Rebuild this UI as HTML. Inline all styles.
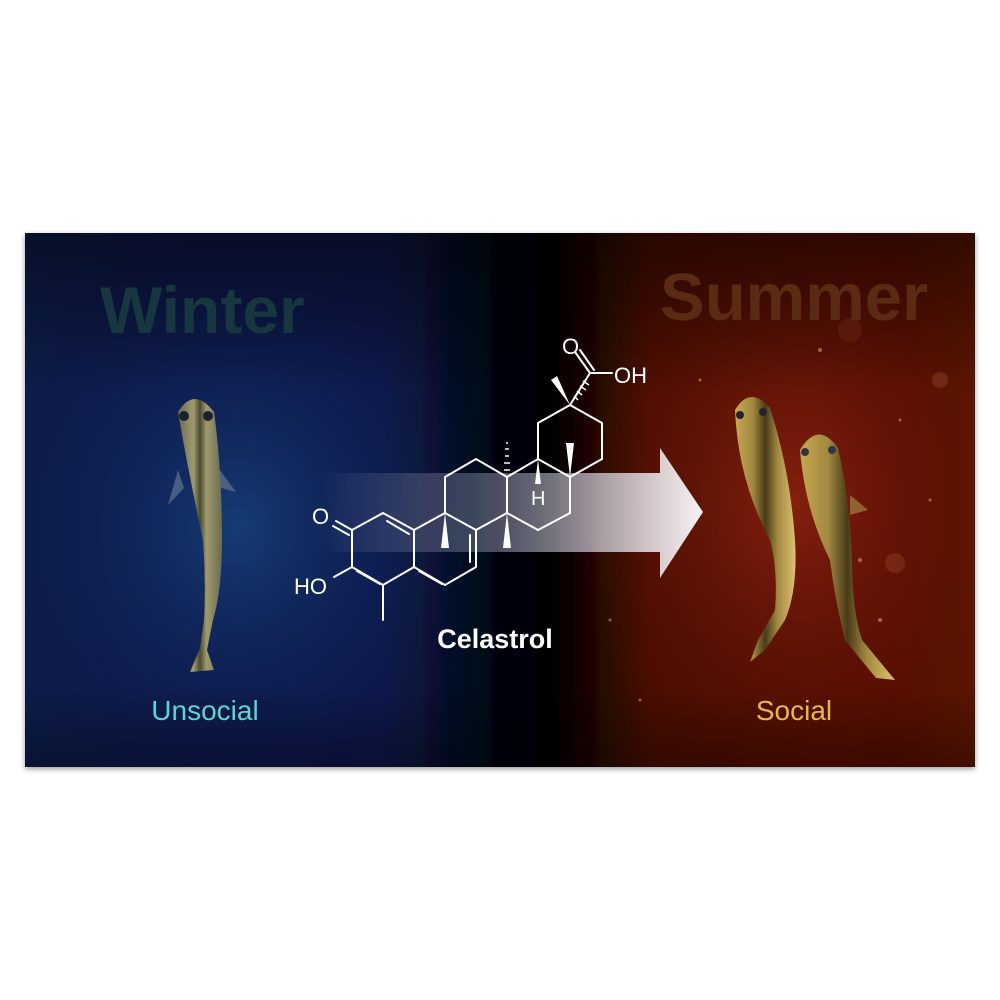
<!DOCTYPE html>
<html><head><meta charset="utf-8"><style>
html,body{margin:0;padding:0;background:#fff;width:1000px;height:1000px;overflow:hidden}
svg{display:block}
text{font-family:"Liberation Sans",Arial,sans-serif}
</style></head><body>
<svg width="1000" height="1000" viewBox="0 0 1000 1000">
<defs>
<linearGradient id="base" x1="0" x2="1" y1="0" y2="0">
<stop offset="0" stop-color="#0a1a48"/><stop offset="0.38" stop-color="#0a1848"/><stop offset="0.5" stop-color="#03050f"/><stop offset="0.56" stop-color="#050101"/><stop offset="0.66" stop-color="#4a0e06"/><stop offset="1" stop-color="#5a1206"/></linearGradient>
<radialGradient id="blue" cx="0.45" cy="0.55" r="0.55">
<stop offset="0" stop-color="#17407a" stop-opacity="0.9"/><stop offset="1" stop-color="#0a1a48" stop-opacity="0"/></radialGradient>
<radialGradient id="red" cx="0.55" cy="0.5" r="0.55">
<stop offset="0" stop-color="#8a2210" stop-opacity="0.9"/><stop offset="1" stop-color="#5a1206" stop-opacity="0"/></radialGradient>
<linearGradient id="topdark" x1="0" x2="0" y1="0" y2="1">
<stop offset="0" stop-color="#000" stop-opacity="0.45"/><stop offset="0.3" stop-color="#000" stop-opacity="0"/><stop offset="0.85" stop-color="#000" stop-opacity="0"/><stop offset="1" stop-color="#000" stop-opacity="0.3"/></linearGradient>
<linearGradient id="arrowg" x1="0" x2="1" y1="0" y2="0">
<stop offset="0" stop-color="#fff" stop-opacity="0"/><stop offset="0.4" stop-color="#c8cce8" stop-opacity="0.3"/><stop offset="1" stop-color="#fff" stop-opacity="0.95"/></linearGradient>
<linearGradient id="fishg" x1="0" x2="1"><stop offset="0" stop-color="#6a6a50"/><stop offset="0.35" stop-color="#a09a70"/><stop offset="0.5" stop-color="#4a4a30"/><stop offset="0.65" stop-color="#a09a70"/><stop offset="1" stop-color="#6a6a50"/></linearGradient>
<linearGradient id="fishg2" x1="0" x2="1"><stop offset="0" stop-color="#c8a850"/><stop offset="0.3" stop-color="#a08840"/><stop offset="0.5" stop-color="#4a3a18"/><stop offset="0.7" stop-color="#a08840"/><stop offset="1" stop-color="#e0c070"/></linearGradient>
<filter id="sh" x="-5%" y="-5%" width="110%" height="110%"><feDropShadow dx="0" dy="2" stdDeviation="3" flood-opacity="0.4"/></filter>
</defs>
<g>
<rect x="25" y="233" width="950" height="534" fill="url(#base)" filter="url(#sh)"/>
<rect x="25" y="233" width="470" height="534" fill="url(#blue)"/>
<rect x="570" y="233" width="405" height="534" fill="url(#red)"/>
<rect x="25" y="233" width="950" height="534" fill="url(#topdark)"/>
</g>
<g fill="#ffb070" opacity="0.5">
<circle cx="820" cy="350" r="2"/><circle cx="900" cy="420" r="1.5"/><circle cx="860" cy="560" r="2"/><circle cx="930" cy="500" r="1.5"/><circle cx="700" cy="380" r="1.5"/><circle cx="880" cy="620" r="2"/><circle cx="940" cy="380" r="8" opacity="0.3"/><circle cx="895" cy="563" r="10" opacity="0.25"/><circle cx="610" cy="620" r="1.5"/><circle cx="640" cy="700" r="1.5"/><circle cx="850" cy="330" r="12" opacity="0.15"/>
</g>
<text x="100" y="333" font-size="66" font-weight="bold" fill="#173640">Winter</text>
<text x="660" y="320" font-size="67" font-weight="bold" fill="#5a2a12">Summer</text>
<path d="M320 473 H660 V448 L703 512 L660 578 V552 H320 Z" fill="url(#arrowg)"/>
<g stroke="#fff" stroke-width="2" fill="none" stroke-linecap="round">
<polyline points="352,530 383,513 414,530 414,567 383,585 352,567 352,530"/>
<polyline points="414,530 445,513 476,530 476,567 445,585 414,567"/>
<polyline points="445,513 445,477 476,459 507,477 507,513 476,530"/>
<polyline points="507,477 538,459 570,477 570,513 538,530 507,513"/>
<polyline points="538,459 538,423 570,405 602,423 602,459 570,477"/>
<line x1="387" y1="521" x2="409" y2="534"/>
<line x1="357" y1="571" x2="380" y2="584"/>
<line x1="419" y1="571" x2="442" y2="584"/>
<line x1="470" y1="535" x2="470" y2="562"/>
<line x1="383" y1="585" x2="383" y2="620"/>
<line x1="352" y1="530" x2="336" y2="521"/><line x1="349" y1="535" x2="333" y2="526"/>
<line x1="352" y1="567" x2="334" y2="577"/>
<line x1="570" y1="405" x2="590" y2="373"/>
<line x1="590" y1="373" x2="575" y2="352"/><line x1="594" y1="370" x2="580" y2="350"/>
<line x1="590" y1="373" x2="612" y2="373"/>
</g>
<g fill="#fff" stroke="#fff">
<polygon points="445,513 441,548 449,548" stroke="none"/>
<polygon points="507,513 503,548 511,548" stroke="none"/>
<polygon points="570,477 566,443 574,443" stroke="none"/>
<polygon points="538,459 535,484 541,484" stroke="none"/>
<polygon points="570,405 551,380 557,376" stroke="none"/>
<g stroke-width="1.5"><line x1="504" y1="470" x2="510" y2="470"/><line x1="504" y1="463" x2="510" y2="463"/><line x1="505" y1="456" x2="509" y2="456"/><line x1="505" y1="449" x2="509" y2="449"/><line x1="506" y1="443" x2="508" y2="443"/>
<line x1="574" y1="396" x2="578" y2="400"/><line x1="577" y1="391" x2="582" y2="395"/><line x1="580" y1="386" x2="586" y2="390"/><line x1="583" y1="381" x2="589" y2="385"/></g>
</g>
<g fill="#fff" font-size="22">
<text x="312" y="524">O</text><text x="294" y="594">HO</text><text x="562" y="354">O</text><text x="614" y="383">OH</text><text x="531" y="505" font-size="20">H</text>
</g>
<text x="495" y="648" font-size="27" font-weight="bold" fill="#fff" text-anchor="middle">Celastrol</text>
<g>
<path d="M178 470 L168 505 L184 488 Z M214 462 L236 492 L214 486 Z" fill="#8090a0" opacity="0.5"/>
<path d="M178 412 Q194 386 214 412 Q222 470 222 540 Q222 590 213 620 L207 650 L214 670 L190 672 L200 648 L204 620 Q206 580 203 540 Q188 470 178 412 Z" fill="url(#fishg)"/>
<circle cx="184" cy="416" r="5" fill="#1a2030"/><circle cx="208" cy="416" r="5" fill="#1a2030"/>
</g>
<g>
<path d="M735 410 Q750 385 770 408 Q790 470 795 540 Q798 590 785 620 L765 650 L750 662 L758 640 L775 610 Q778 570 770 540 Q738 480 735 410 Z" fill="url(#fishg2)"/>
<circle cx="740" cy="415" r="4" fill="#223"/><circle cx="763" cy="412" r="4" fill="#223"/>
</g>
<g>
<path d="M850 495 L868 510 L850 515 Z" fill="#a08040" opacity="0.7"/>
<path d="M800 450 Q818 420 838 448 Q850 500 852 560 Q852 610 862 640 L895 680 L876 678 L845 640 Q835 600 830 560 Q805 510 800 450 Z" fill="url(#fishg2)"/>
<circle cx="805" cy="452" r="4" fill="#334"/><circle cx="832" cy="450" r="4" fill="#334"/>
</g>
<text x="205" y="720" font-size="28" fill="#5ed4d2" text-anchor="middle">Unsocial</text>
<text x="794" y="720" font-size="28" fill="#e6b84a" text-anchor="middle">Social</text>
</svg>
</body></html>
